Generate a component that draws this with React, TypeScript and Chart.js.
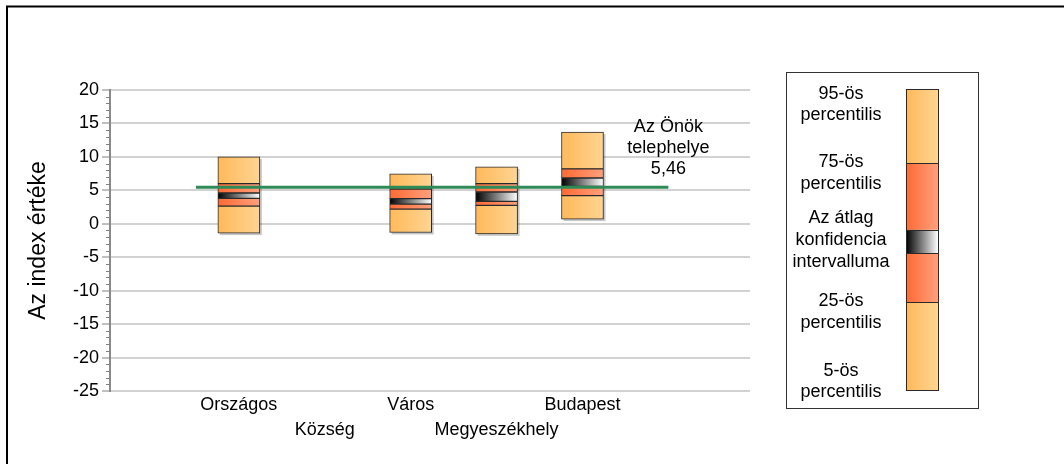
import React, { useEffect, useRef } from 'react';
import { Chart, registerables } from 'chart.js';

Chart.register(...registerables);

const FONT = "'Liberation Sans', Arial, sans-serif";

// ---- data ----
const categories = ['Országos', 'Község', 'Város', 'Megyeszékhely', 'Budapest'];
const categoryX = [1, 2, 3, 4, 5];
const p5 = [-1.4, null, -1.3, -1.5, 0.7];
const p25 = [2.65, null, 2.2, 2.75, 4.2];
const ciLow = [3.8, null, 2.95, 3.35, 5.6];
const ciHigh = [4.6, null, 3.75, 4.75, 6.85];
const p75 = [6.0, null, 5.2, 6.0, 8.2];
const p95 = [10.0, null, 7.45, 8.5, 13.7];
const siteValue = 5.46;
const siteLineX = [0.5, 6.0];
const siteLabel = ['Az Önök', 'telephelye', '5,46'];
const yMin = -25;
const yMax = 20;
const yStep = 5;
const yTitle = 'Az index értéke';
const legendLabels = [
  ['95-ös', 'percentilis'],
  ['75-ös', 'percentilis'],
  ['Az átlag', 'konfidencia', 'intervalluma'],
  ['25-ös', 'percentilis'],
  ['5-ös', 'percentilis'],
];

type Kind = 'light' | 'orange' | 'ci';
const gradStops: Record<Kind, [string, string]> = {
  light: ['#FFB95A', '#FFD492'],
  orange: ['#FF6A33', '#FFA07E'],
  ci: ['#000000', '#FFFFFF'],
};

const BAR_W = 42;

function makeFill(kind: Kind) {
  return (ctx: any) => {
    const chart = ctx.chart;
    const xs = chart.scales && chart.scales.x;
    if (!xs || ctx.type !== 'data' || !ctx.raw) return gradStops[kind][0];
    const cx = xs.getPixelForValue(ctx.raw.x);
    if (!isFinite(cx)) return gradStops[kind][0];
    const g = chart.ctx.createLinearGradient(cx - BAR_W / 2, 0, cx + BAR_W / 2, 0);
    g.addColorStop(0, gradStops[kind][0]);
    g.addColorStop(1, gradStops[kind][1]);
    return g;
  };
}

function segment(lo: (number | null)[], hi: (number | null)[], kind: Kind, label: string) {
  const data: any[] = [];
  categoryX.forEach((x, i) => {
    if (lo[i] != null && hi[i] != null) data.push({ x, y: [lo[i], hi[i]] });
  });
  return {
    type: 'bar' as const,
    label,
    data,
    backgroundColor: makeFill(kind),
    borderColor: '#2a2a2a',
    borderWidth: 1,
    borderSkipped: false,
    barThickness: BAR_W,
    grouped: false,
    order: 1,
  };
}

const decorPlugin = {
  id: 'decor',
  beforeDatasetsDraw(chart: any) {
    const ctx = chart.ctx;
    const xs = chart.scales.x;
    const ys = chart.scales.y;
    ctx.save();
    ctx.fillStyle = 'rgba(0,0,0,0.22)';
    categoryX.forEach((x, i) => {
      if (p5[i] == null || p95[i] == null) return;
      const cx = xs.getPixelForValue(x);
      const top = ys.getPixelForValue(p95[i] as number);
      const bot = ys.getPixelForValue(p5[i] as number);
      ctx.fillRect(cx - BAR_W / 2 + 2, top + 2, BAR_W, bot - top);
    });
    ctx.restore();
  },
  afterDraw(chart: any) {
    const ctx = chart.ctx;
    const xs = chart.scales.x;
    const ys = chart.scales.y;
    const area = chart.chartArea;
    ctx.save();

    // outer frame
    ctx.strokeStyle = '#000';
    ctx.lineWidth = 2;
    ctx.beginPath();
    ctx.moveTo(7, 464);
    ctx.lineTo(7, 6.5);
    ctx.lineTo(1064, 6.5);
    ctx.stroke();

    // minor ticks on y axis
    ctx.strokeStyle = '#808080';
    ctx.lineWidth = 1;
    ctx.beginPath();
    for (let v = yMin; v <= yMax; v++) {
      if (v % yStep === 0) continue;
      const y = Math.round(ys.getPixelForValue(v)) + 0.5;
      ctx.moveTo(area.left - 4, y);
      ctx.lineTo(area.left, y);
    }
    ctx.stroke();

    // site annotation
    ctx.fillStyle = '#000';
    ctx.font = `18px ${FONT}`;
    ctx.textAlign = 'center';
    ctx.textBaseline = 'middle';
    const tx = xs.getPixelForValue(siteLineX[1]);
    const baseY = ys.getPixelForValue(siteValue);
    siteLabel.forEach((t, i) => {
      ctx.fillText(t, tx, baseY - 18 - (siteLabel.length - 1 - i) * 21);
    });

    // legend box
    const bx = 786, by = 72, bw = 192, bh = 336;
    ctx.strokeStyle = '#333';
    ctx.lineWidth = 1;
    ctx.strokeRect(bx + 0.5, by + 0.5, bw, bh);

    const barL = 906, barR = 938, barTop = 89, barBot = 390;
    const stops = [0, 0.246, 0.468, 0.545, 0.708, 1];
    const kinds: Kind[] = ['light', 'orange', 'ci', 'orange', 'light'];
    for (let i = 0; i < 5; i++) {
      const y0 = barTop + stops[i] * (barBot - barTop);
      const y1 = barTop + stops[i + 1] * (barBot - barTop);
      const g = ctx.createLinearGradient(barL, 0, barR, 0);
      g.addColorStop(0, gradStops[kinds[i]][0]);
      g.addColorStop(1, gradStops[kinds[i]][1]);
      ctx.fillStyle = g;
      ctx.fillRect(barL, y0, barR - barL, y1 - y0);
      ctx.strokeStyle = '#2a2a2a';
      ctx.strokeRect(barL + 0.5, Math.round(y0) + 0.5, barR - barL, Math.round(y1) - Math.round(y0));
    }

    const groupCenters = [104.5, 173, 240, 312, 381.5];
    ctx.fillStyle = '#000';
    ctx.font = `18px ${FONT}`;
    ctx.textAlign = 'center';
    ctx.textBaseline = 'middle';
    legendLabels.forEach((lines, gi) => {
      const n = lines.length;
      lines.forEach((t, li) => {
        ctx.fillText(t, 841, groupCenters[gi] + (li - (n - 1) / 2) * 21.7);
      });
    });

    ctx.restore();
  },
};

export default function App() {
  const ref = useRef<HTMLCanvasElement | null>(null);

  useEffect(() => {
    if (!ref.current) return;
    Chart.defaults.font.family = FONT;
    const chart = new Chart(ref.current, {
      type: 'bar',
      data: {
        datasets: [
          {
            type: 'line',
            label: 'site',
            data: siteLineX.map((x) => ({ x, y: siteValue })),
            borderColor: '#2E8B57',
            borderWidth: 3,
            pointRadius: 0,
            fill: false,
            order: 0,
          } as any,
          segment(p5, p25, 'light', 'p5-p25'),
          segment(p25, ciLow, 'orange', 'p25-ci'),
          segment(ciLow, ciHigh, 'ci', 'ci'),
          segment(ciHigh, p75, 'orange', 'ci-p75'),
          segment(p75, p95, 'light', 'p75-p95'),
        ],
      },
      options: {
        animation: false,
        responsive: false,
        layout: { padding: { left: 0, top: 90, right: 314, bottom: 0 } },
        plugins: { legend: { display: false }, tooltip: { enabled: false } },
        scales: {
          x: {
            type: 'linear',
            min: -0.5,
            max: 6.95,
            offset: false,
            grid: { display: false, offset: false },
            border: { display: false },
            afterBuildTicks: (s: any) => {
              s.ticks = categoryX.map((v) => ({ value: v }));
            },
            afterFit: (s: any) => {
              s.height = 73;
            },
            ticks: {
              autoSkip: false,
              maxRotation: 0,
              padding: -6,
              color: '#000',
              font: { size: 18, family: FONT, lineHeight: 1.39 },
              callback: (v: any) => {
                const i = categoryX.indexOf(Number(v));
                if (i < 0) return '';
                return i % 2 === 1 ? ['', categories[i]] : categories[i];
              },
            },
          },
          y: {
            type: 'linear',
            min: yMin,
            max: yMax,
            afterFit: (s: any) => {
              s.width = 110;
            },
            ticks: {
              stepSize: yStep,
              padding: 3,
              color: '#000',
              font: { size: 18, family: FONT },
            },
            grid: {
              color: '#D2D2D2',
              lineWidth: 2,
              drawTicks: true,
              tickLength: 8,
              tickColor: '#808080',
              tickWidth: 1,
            },
            border: { display: true, color: '#8A8A8A', width: 2 },
            title: {
              display: true,
              text: yTitle,
              color: '#000',
              font: { size: 23, family: FONT },
              padding: { top: 25, bottom: 0 },
            },
          },
        },
      },
      plugins: [decorPlugin],
    } as any);
    return () => chart.destroy();
  }, []);

  return (
    <div style={{ position: 'fixed', left: 0, top: 0, width: 1064, height: 464, background: '#fff' }}>
      <canvas ref={ref} width={1064} height={464} style={{ display: 'block' }} />
    </div>
  );
}
